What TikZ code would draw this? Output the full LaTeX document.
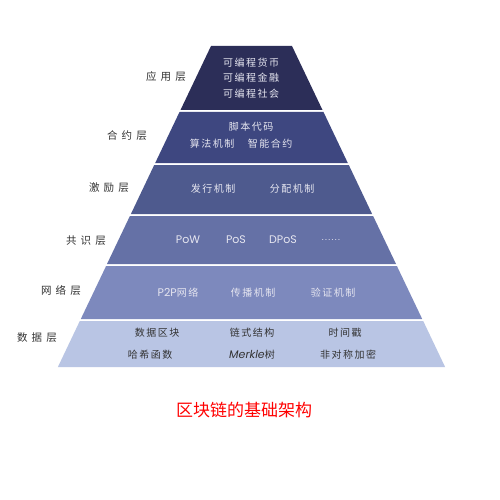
\documentclass[tikz,border=0pt]{standalone}
\usepackage{fontspec}
\setmainfont{Noto Sans CJK SC}
\newfontfamily\cjk[LetterSpace=15]{Noto Sans CJK SC}
\newfontfamily\cjklab[LetterSpace=40]{Noto Sans CJK SC}
\newfontfamily\cjkcap{Noto Sans CJK SC}
\newfontfamily\lat{Poppins}
\newfontfamily\latdots[LetterSpace=15]{Poppins}
\definecolor{cA}{HTML}{2C2E58}
\definecolor{cB}{HTML}{3E4780}
\definecolor{cC}{HTML}{4E5A8E}
\definecolor{cD}{HTML}{6571A6}
\definecolor{cE}{HTML}{7D89BD}
\definecolor{cF}{HTML}{B9C5E4}
\definecolor{txtw}{HTML}{E6E6F0}
\definecolor{txtd}{HTML}{333333}
\tikzset{
  intext/.style={text=txtw,font=\cjk\fontsize{10}{12}\selectfont,inner sep=0pt,anchor=center},
  darktext/.style={text=txtd,font=\cjk\fontsize{10}{12}\selectfont,inner sep=0pt,anchor=center},
  lattext/.style={text=txtw,font=\lat\fontsize{11}{13}\selectfont,inner sep=0pt,anchor=center},
  lab/.style={text=txtd,font=\cjklab\fontsize{10.5}{12}\selectfont,inner sep=0pt,anchor=center}
}
\begin{document}
\begin{tikzpicture}[x=1pt,y=-1pt]
\useasboundingbox (0,0) rectangle (500,500);
\fill[white] (0,0) rectangle (500,500);
% layers
\fill[cA] (211,46) -- (292,46) -- (322.5,110) -- (180.5,110) -- cycle;
\fill[cB] (179.5,112) -- (323.5,112) -- (347.8,163) -- (155.2,163) -- cycle;
\fill[cC] (154.2,165) -- (348.8,165) -- (372.1,214) -- (130.9,214) -- cycle;
\fill[cD] (129.9,216) -- (373.1,216) -- (396.0,264) -- (107.0,264) -- cycle;
\fill[cE] (106.1,266) -- (396.9,266) -- (422.2,319) -- (80.8,319) -- cycle;
\fill[cF] (79.8,321) -- (423.2,321) -- (445.1,367) -- (57.9,367) -- cycle;
% left labels
\node[lab] (l1) at (166,77) {应用层};
\node[lab] (l2) at (127,136) {合约层};
\node[lab] (l3) at (109,188) {激励层};
\node[lab] (l4) at (86,241) {共识层};
\node[lab] (l5) at (61,290) {网络层};
\node[lab] (l6) at (37,338) {数据层};
% layer 1
\node[intext] (a1) at (251,63) {可编程货币};
\node[intext] (a2) at (251,78) {可编程金融};
\node[intext] (a3) at (251,94) {可编程社会};
% layer 2
\node[intext] (b1) at (251,127) {脚本代码};
\node[intext] (b2) at (212,144) {算法机制};
\node[intext] (b3) at (270,144) {智能合约};
% layer 3
\node[intext] (c1) at (213,189) {发行机制};
\node[intext] (c2) at (292,189) {分配机制};
% layer 4
\node[lattext] (d1) at (188,240) {PoW};
\node[lattext] (d2) at (236,240) {PoS};
\node[lattext] (d3) at (283,240) {DPoS};
\node[lattext,font=\latdots\fontsize{9}{11}\selectfont] (d4) at (331,240) {......};
% layer 5
\node[intext] (e1) at (178,293) {{\lat\fontsize{11}{13}\selectfont P2P}网络};
\node[intext] (e2) at (253,293) {传播机制};
\node[intext] (e3) at (333,293) {验证机制};
% layer 6
\node[darktext] (f1) at (157,333) {数据区块};
\node[darktext] (f2) at (252,333) {链式结构};
\node[darktext] (f3) at (345,333) {时间戳};
\node[darktext] (f4) at (150,355) {哈希函数};
\node[darktext] (f5) at (252,355) {{\lat\itshape\fontsize{11}{13}\selectfont Merkle}树};
\node[darktext] (f6) at (348,355) {非对称加密};
% caption
\node[text=red,font=\cjkcap\fontsize{17}{20}\selectfont,inner sep=0pt] (cap) at (244,410) {区块链的基础架构};
\end{tikzpicture}
\end{document}
